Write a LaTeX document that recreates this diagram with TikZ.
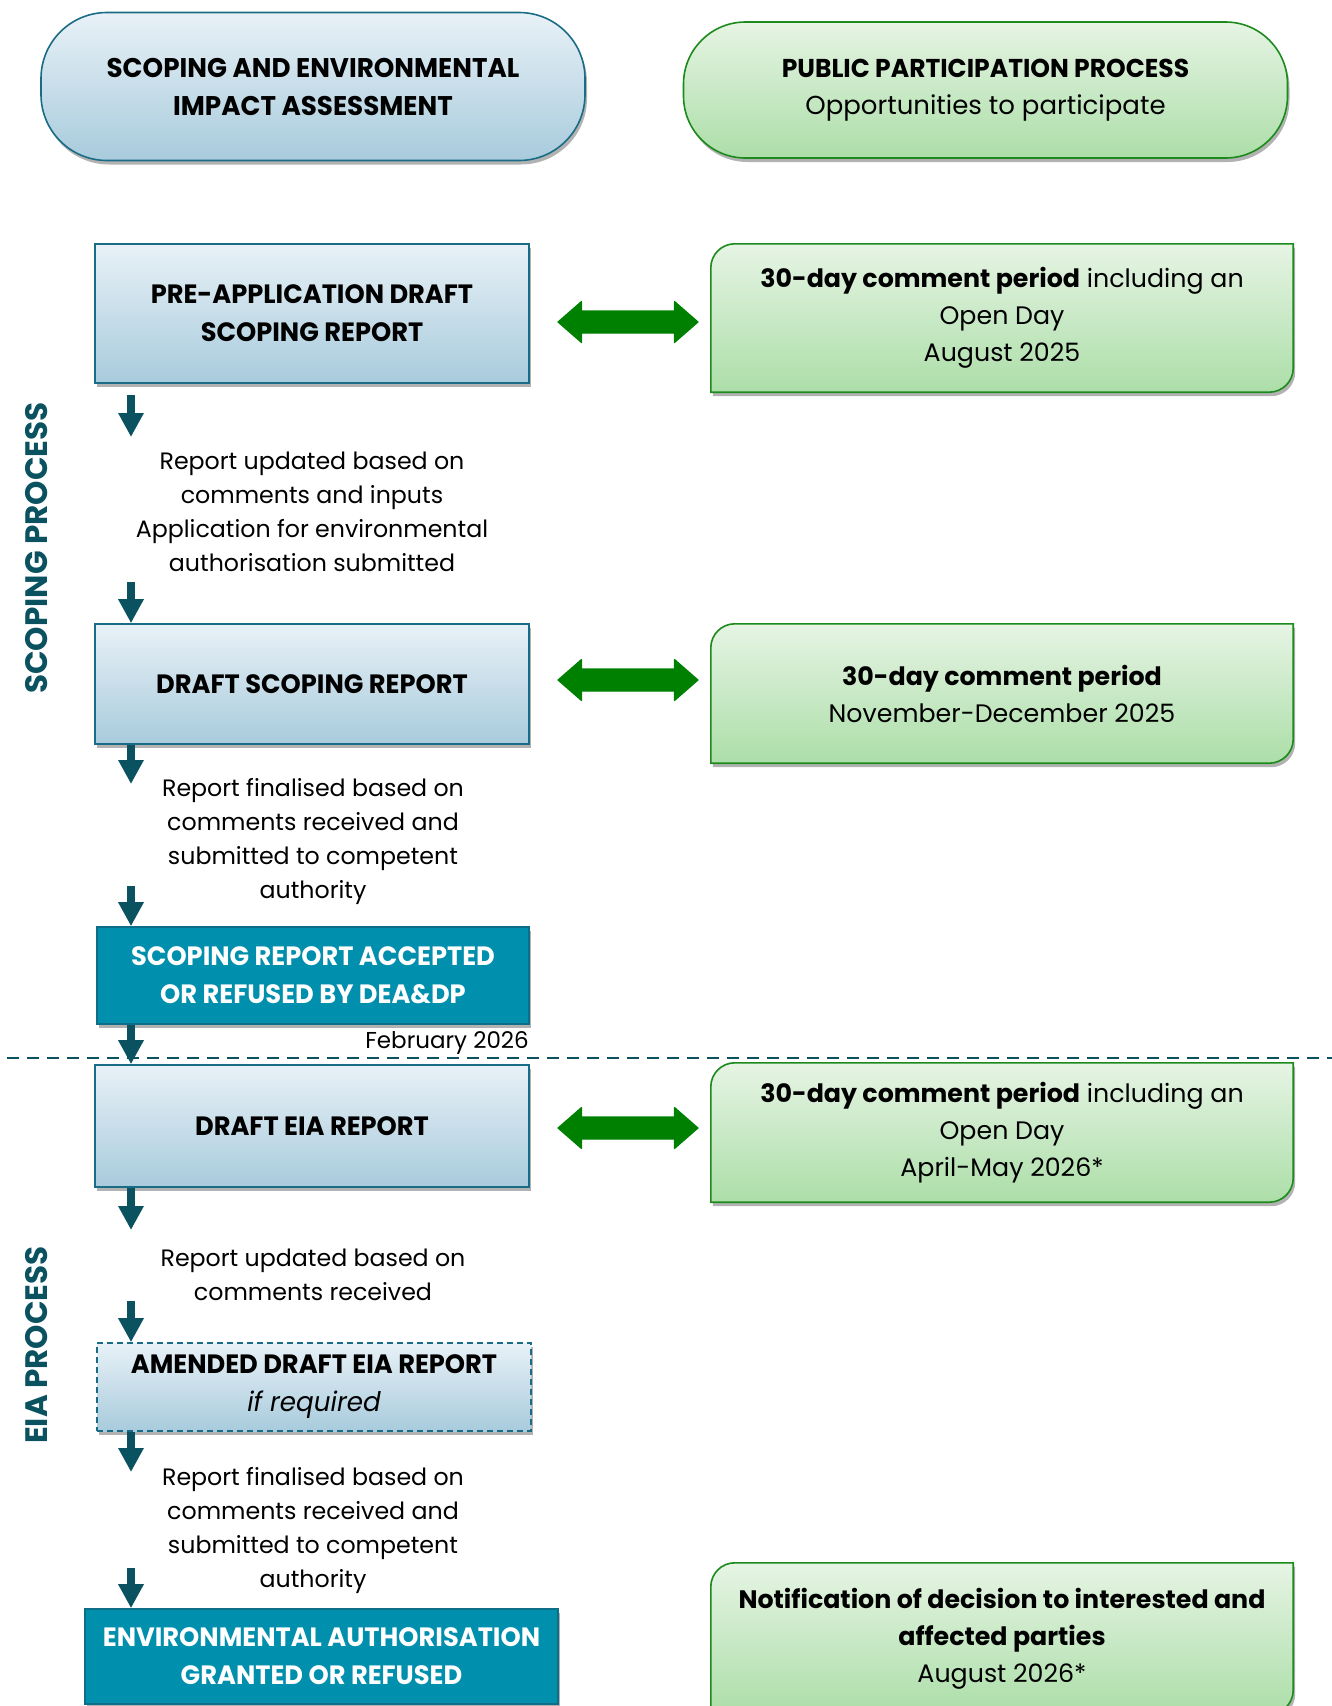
\documentclass[tikz,border=0pt]{standalone}
\usepackage{fontspec}
\setmainfont{Poppins}
\newfontfamily\headfont{Poppins}[FakeStretch=0.97]
\usetikzlibrary{shadows,arrows.meta}
\pgfdeclarelayer{background}
\pgfsetlayers{background,main}
\definecolor{bluetop}{RGB}{232,241,247}
\definecolor{bluebot}{RGB}{168,203,220}
\definecolor{blueline}{RGB}{26,108,134}
\definecolor{tealfill}{RGB}{0,143,173}
\definecolor{tealline}{RGB}{14,110,135}
\definecolor{greentop}{RGB}{230,244,228}
\definecolor{greenbot}{RGB}{172,222,168}
\definecolor{greenline}{RGB}{28,138,28}
\definecolor{dblgreen}{RGB}{0,128,0}
\definecolor{darkteal}{RGB}{11,82,97}
\tikzset{
  shadowed/.style={drop shadow={shadow xshift=2pt,shadow yshift=-4pt,opacity=0.3,fill=black}},
  headtext/.style={font=\headfont\bfseries\fontsize{26.5}{38}\selectfont},
  bluebox/.style={rectangle,draw=blueline,line width=1.6pt,top color=bluetop,bottom color=bluebot,align=center,shadowed,headtext},
  tealbox/.style={rectangle,draw=tealline,line width=1.6pt,fill=tealfill,text=white,align=center,shadowed,headtext},
  pillblue/.style={bluebox,rounded corners=66pt,font=\headfont\bfseries\fontsize{27}{38}\selectfont},
  pillgreen/.style={rectangle,draw=greenline,line width=1.6pt,top color=greentop,bottom color=greenbot,align=center,shadowed,rounded corners=62pt,font=\fontsize{26}{37}\selectfont},
  greenarea/.style={rectangle,align=center,font=\fontsize{25.3}{37}\selectfont},
  greenfill/.style={draw=greenline,line width=1.6pt,top color=greentop,bottom color=greenbot,shadowed},
  note/.style={align=center,font=\fontsize{23.7}{34}\selectfont},
  sidelabel/.style={rotate=90,text=darkteal,font=\bfseries\fontsize{31}{31}\selectfont},
  darr/.style={draw=darkteal,line width=8pt,-{Triangle[width=24pt,length=24pt]}},
  dblfill/.style={fill=dblgreen,draw=dblgreen,line width=1.2pt,line join=round}
}
\newcommand\greenshape[1]{%
  \path[greenfill] ([yshift=-24pt]#1.north west) arc[start angle=180,end angle=90,radius=24pt]
    -- (#1.north east) -- ([yshift=24pt]#1.south east) arc[start angle=0,end angle=-90,radius=24pt]
    -- (#1.south west) -- cycle;}
\newcommand\dblarrow[1]{%
  \path[dblfill] (#1) -- ++(23.5,-20.5) -- ++(0,9.5) -- ++(93,0) -- ++(0,-9.5) -- ++(23.5,20.5)
    -- ++(-23.5,20.5) -- ++(0,-9.5) -- ++(-93,0) -- ++(0,9.5) -- cycle;}
\begin{document}
\begin{tikzpicture}[x=1pt,y=-1pt]
\useasboundingbox (0,0) rectangle (1332,1706);
% headers
\node[pillblue,minimum width=544pt,minimum height=148pt] (hdrL) at (313,86.5) {SCOPING AND ENVIRONMENTAL\\IMPACT ASSESSMENT};
\node[pillgreen,minimum width=604pt,minimum height=136pt] (hdrR) at (985.5,90) {{\headfont\bfseries\fontsize{25.8}{37}\selectfont PUBLIC PARTICIPATION PROCESS}\\Opportunities to participate};
% side labels
\node[sidelabel] (labS) at (37,548) {SCOPING PROCESS};
\node[sidelabel] (labE) at (37,1345) {EIA PROCESS};
% left column
\node[bluebox,minimum width=434pt,minimum height=139pt] (pre) at (312,313.5) {PRE-APPLICATION DRAFT\\SCOPING REPORT};
\node[note] (t1) at (312,511.5) {Report updated based on\\comments and inputs\\Application for environmental\\authorisation submitted};
\node[bluebox,minimum width=434pt,minimum height=120pt] (dsr) at (312,684) {DRAFT SCOPING REPORT};
\node[note] (t2) at (313,841.5) {Report finalised based on\\comments received and\\submitted to competent\\authority};
\node[tealbox,minimum width=432pt,minimum height=97pt] (acc) at (313,975.5) {SCOPING REPORT ACCEPTED\\OR REFUSED BY DEA\&DP};
\node[note,anchor=east,inner sep=0pt,font=\fontsize{23}{34}\selectfont] (feb) at (529,1043) {February 2026};
\node[bluebox,minimum width=434pt,minimum height=122pt] (deia) at (312,1126) {DRAFT EIA REPORT};
\node[note] (t3) at (313,1274.5) {Report updated based on\\comments received};
\node[bluebox,dashed,dash pattern=on 6pt off 4pt,minimum width=434pt,minimum height=88pt] (amd) at (314,1387) {AMENDED DRAFT EIA REPORT\\{\mdseries\itshape\fontsize{27}{38}\selectfont if required}};
\node[note] (t4) at (313,1530.5) {Report finalised based on\\comments received and\\submitted to competent\\authority};
\node[tealbox,minimum width=473pt,minimum height=95pt] (ea) at (321.5,1656.5) {ENVIRONMENTAL AUTHORISATION\\GRANTED OR REFUSED};
% divider
\coordinate (divL) at (7,1058);
\coordinate (divR) at (1332,1058);
\draw[darkteal,line width=2pt,dash pattern=on 12pt off 8pt] (divL) -- (divR);
% right column
\node[greenarea,minimum width=582pt,minimum height=148pt] (g1) at (1002,318) {{\bfseries 30-day comment period} including an\\Open Day\\August 2025};
\node[greenarea,minimum width=582pt,minimum height=139pt] (g2) at (1002,693.5) {{\bfseries 30-day comment period}\\November-December 2025};
\node[greenarea,minimum width=582pt,minimum height=139pt] (g3) at (1002,1132.5) {{\bfseries 30-day comment period} including an\\Open Day\\April-May 2026*};
\node[greenarea,minimum width=582pt,minimum height=151pt] (g4) at (1002,1638.5) {{\bfseries Notification of decision to interested and}\\{\bfseries affected parties}\\August 2026*};
\begin{pgfonlayer}{background}
\greenshape{g1}
\greenshape{g2}
\greenshape{g3}
\greenshape{g4}
\end{pgfonlayer}
% double arrows
\coordinate (da1) at (558,322);
\coordinate (da2) at (558,680);
\coordinate (da3) at (558,1128);
\dblarrow{da1}
\dblarrow{da2}
\dblarrow{da3}
% down arrows
\coordinate (ax) at (131,0);
\coordinate (a1s) at (131,395);
\coordinate (a1e) at (131,437);
\coordinate (a2s) at (131,582);
\coordinate (a4s) at (131,886);
\coordinate (a3e) at (131,784);
\coordinate (a6e) at (131,1230);
\coordinate (a7s) at (131,1301);
\coordinate (a8e) at (131,1472);
\coordinate (a9s) at (131,1568);
\draw[darr] (a1s) -- (a1e);
\draw[darr] (a2s) -- (dsr.north -| ax);
\draw[darr] (dsr.south -| ax) -- (a3e);
\draw[darr] (a4s) -- (acc.north -| ax);
\draw[darr] (acc.south -| ax) -- (deia.north -| ax);
\draw[darr] (deia.south -| ax) -- (a6e);
\draw[darr] (a7s) -- (amd.north -| ax);
\draw[darr] (amd.south -| ax) -- (a8e);
\draw[darr] (a9s) -- (ea.north -| ax);
\end{tikzpicture}
\end{document}
